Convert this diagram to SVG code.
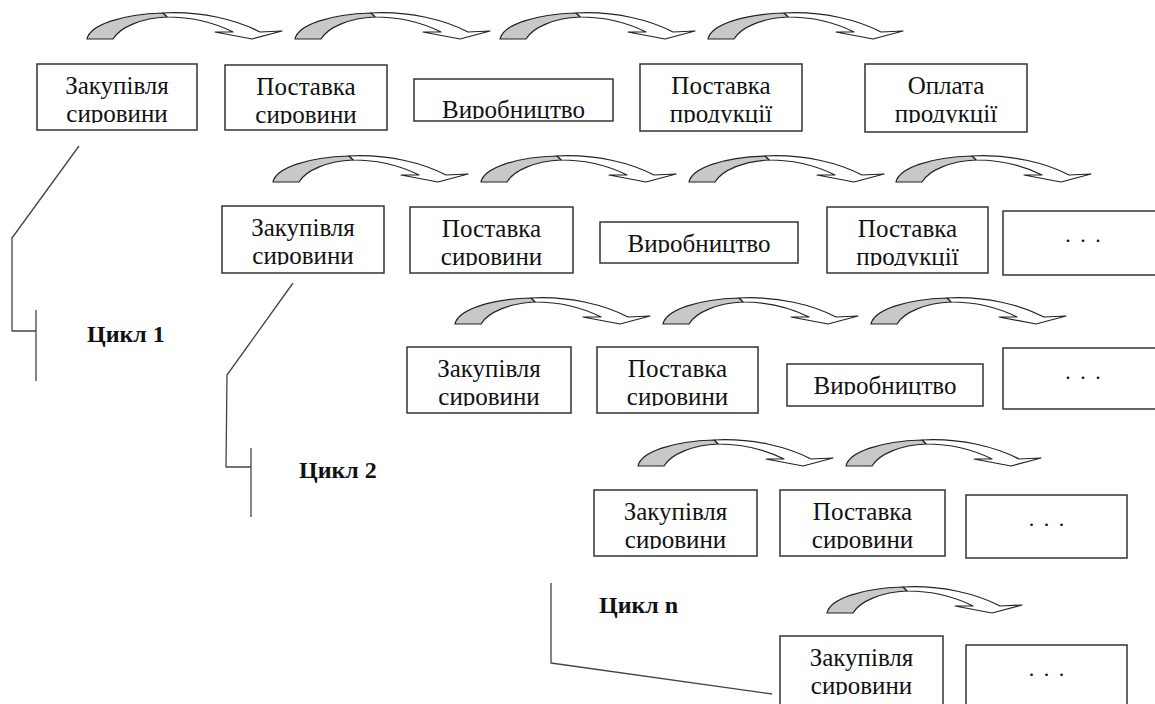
<svg xmlns="http://www.w3.org/2000/svg" xmlns:xlink="http://www.w3.org/1999/xlink" width="1155" height="704" viewBox="0 0 1155 704" font-family="Liberation Serif, serif">
<style>
.box{fill:#fff;stroke:#333;stroke-width:1.5}
.t{font-size:25px;text-anchor:middle;fill:#111}
.cut{clip-path:url(#cutclip)}
.dots{font-size:22px;text-anchor:middle;letter-spacing:2px;fill:#111}
.lbl{font-size:24px;font-weight:bold;fill:#111}
.ln{fill:none;stroke:#444;stroke-width:1.3;stroke-linejoin:round}
.agray{fill:#c8c8c8;stroke:#222;stroke-width:1.2;stroke-linejoin:round}
.awhite{fill:#fff;stroke:#222;stroke-width:1.2;stroke-linejoin:round}
</style>
<defs>
<clipPath id="cutclip" clipPathUnits="objectBoundingBox"><rect x="-0.1" y="-0.2" width="1.2" height="1.05"/></clipPath>
<g id="arr">
<path class="awhite" d="M76,-26 C115,-28 150,-19 173,-7 L195,-8 L165,0 L128,-7 L146,-7 C128,-16 105,-22 80,-22 Z"/>
<path class="agray" d="M0,0 C3,-14 35,-25 76,-26 L80,-22 C55,-21 33,-12 26,0 Z"/>
</g>
</defs>
<rect width="1155" height="704" fill="#fff"/>

<g id="connectors">
<use xlink:href="#arr" transform="translate(87,39)"/>
<use xlink:href="#arr" transform="translate(295,39)"/>
<use xlink:href="#arr" transform="translate(500,39)"/>
<use xlink:href="#arr" transform="translate(708,39)"/>
<use xlink:href="#arr" transform="translate(273,182)"/>
<use xlink:href="#arr" transform="translate(481,182)"/>
<use xlink:href="#arr" transform="translate(689,182)"/>
<use xlink:href="#arr" transform="translate(896,182)"/>
<use xlink:href="#arr" transform="translate(455,324)"/>
<use xlink:href="#arr" transform="translate(663,324)"/>
<use xlink:href="#arr" transform="translate(871,324)"/>
<use xlink:href="#arr" transform="translate(638,466)"/>
<use xlink:href="#arr" transform="translate(846,466)"/>
<use xlink:href="#arr" transform="translate(827,613)"/>
<polyline class="ln" points="79,146 12,238 12,331 36,331"/>
<line class="ln" x1="36" y1="310" x2="36" y2="381"/>
<polyline class="ln" points="293,283 227,375 226,467 251,467"/>
<line class="ln" x1="251" y1="448" x2="251" y2="517"/>
<polyline class="ln" points="551,583 551,663 772,694"/>
</g>

<g id="labels">
<text class="lbl" x="87" y="342" font-family="Liberation Serif, serif">Цикл 1</text>
<text class="lbl" x="299" y="478" font-family="Liberation Serif, serif">Цикл 2</text>
<text class="lbl" x="599" y="613" font-family="Liberation Serif, serif">Цикл n</text>
</g>

<g id="r1n1" font-family="Liberation Serif, serif"><rect class="box" x="37" y="64" width="160" height="66"/><text class="t" x="117" y="94">Закупівля</text><text class="t cut" x="117" y="122">сировини</text></g>
<g id="r1n2" font-family="Liberation Serif, serif"><rect class="box" x="225" y="65" width="162" height="65"/><text class="t" x="306" y="95">Поставка</text><text class="t cut" x="306" y="123">сировини</text></g>
<g id="r1n3" font-family="Liberation Serif, serif"><rect class="box" x="414" y="79" width="199" height="42"/><text class="t cut" x="513.5" y="118">Виробництво</text></g>
<g id="r1n4" font-family="Liberation Serif, serif"><rect class="box" x="640" y="64" width="162" height="67"/><text class="t" x="721" y="94">Поставка</text><text class="t cut" x="721" y="122">продукції</text></g>
<g id="r1n5" font-family="Liberation Serif, serif"><rect class="box" x="865" y="64" width="162" height="68"/><text class="t" x="946" y="94">Оплата</text><text class="t cut" x="946" y="122">продукції</text></g>

<g id="r2n1" font-family="Liberation Serif, serif"><rect class="box" x="222" y="206" width="162" height="67"/><text class="t" x="303" y="236">Закупівля</text><text class="t cut" x="303" y="264">сировини</text></g>
<g id="r2n2" font-family="Liberation Serif, serif"><rect class="box" x="410" y="207" width="163" height="66"/><text class="t" x="491.5" y="237">Поставка</text><text class="t cut" x="491.5" y="265">сировини</text></g>
<g id="r2n3" font-family="Liberation Serif, serif"><rect class="box" x="600" y="222" width="198" height="41"/><text class="t cut" x="699" y="252">Виробництво</text></g>
<g id="r2n4" font-family="Liberation Serif, serif"><rect class="box" x="827" y="207" width="161" height="66"/><text class="t" x="907.5" y="237">Поставка</text><text class="t cut" x="907.5" y="265">продукції</text></g>
<g id="r2n5" font-family="Liberation Serif, serif"><rect class="box" x="1003" y="211" width="160" height="64"/><text class="dots" x="1084" y="242">. . .</text></g>

<g id="r3n1" font-family="Liberation Serif, serif"><rect class="box" x="407" y="347" width="164" height="66"/><text class="t" x="489" y="377">Закупівля</text><text class="t cut" x="489" y="405">сировини</text></g>
<g id="r3n2" font-family="Liberation Serif, serif"><rect class="box" x="597" y="347" width="161" height="66"/><text class="t" x="677.5" y="377">Поставка</text><text class="t cut" x="677.5" y="405">сировини</text></g>
<g id="r3n3" font-family="Liberation Serif, serif"><rect class="box" x="787" y="364" width="196" height="42"/><text class="t cut" x="885" y="394">Виробництво</text></g>
<g id="r3n4" font-family="Liberation Serif, serif"><rect class="box" x="1003" y="348" width="160" height="61"/><text class="dots" x="1084" y="379">. . .</text></g>

<g id="r4n1" font-family="Liberation Serif, serif"><rect class="box" x="594" y="490" width="163" height="66"/><text class="t" x="675.5" y="520">Закупівля</text><text class="t cut" x="675.5" y="548">сировини</text></g>
<g id="r4n2" font-family="Liberation Serif, serif"><rect class="box" x="780" y="490" width="165" height="66"/><text class="t" x="862.5" y="520">Поставка</text><text class="t cut" x="862.5" y="548">сировини</text></g>
<g id="r4n3" font-family="Liberation Serif, serif"><rect class="box" x="966" y="495" width="161" height="63"/><text class="dots" x="1047.5" y="526">. . .</text></g>

<g id="r5n1" font-family="Liberation Serif, serif"><rect class="box" x="780" y="636" width="163" height="72"/><text class="t" x="861.5" y="666">Закупівля</text><text class="t cut" x="861.5" y="694">сировини</text></g>
<g id="r5n2" font-family="Liberation Serif, serif"><rect class="box" x="966" y="645" width="161" height="65"/><text class="dots" x="1047.5" y="676">. . .</text></g>
</svg>
